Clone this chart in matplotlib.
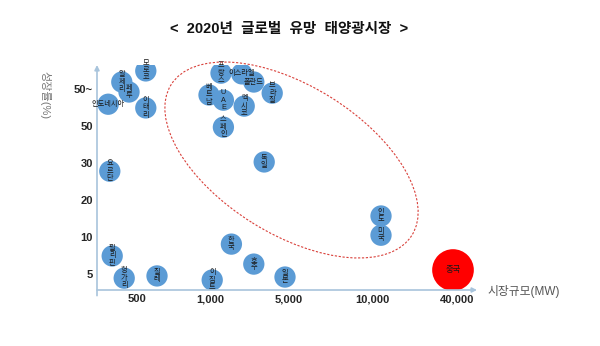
import matplotlib.pyplot as plt
from matplotlib.patches import Ellipse

plt.rcParams['font.family'] = ['Liberation Sans', 'Noto Sans CJK KR', 'DejaVu Sans']

# 축 눈금 (x: 시장규모, y: 성장률) - 눈금 간격이 일정하지 않은 범주형 축
x_tick_pos = [0, 0.91, 1.89, 2.94, 4.0]
x_tick_labels = ['500', '1,000', '5,000', '10,000', '40,000']
y_tick_pos = [0, 1, 2, 3, 4, 5]
y_tick_labels = ['5', '10', '20', '30', '50', '50~']

# 국가별 위치 (축 눈금 단위)
countries = ['알제리', '페루', '모로코', '인도네시아', '이태리', '요르단', '필리핀', '헝가리', '칠레',
             '프랑스', '이스라엘', '폴란드', '브라질', '베트남', 'UAE', '멕시코', '스페인', '독일',
             '한국', '호주', '이집트', '일본', '인도', '미국']
market_pos = [-0.19, -0.10, 0.11, -0.36, 0.11, -0.34, -0.31, -0.16, 0.25,
              1.05, 1.31, 1.46, 1.69, 0.90, 1.08, 1.34, 1.08, 1.59,
              1.18, 1.46, 0.94, 1.85, 3.05, 3.05]
growth_pos = [5.19, 4.92, 5.49, 4.59, 4.49, 2.78, 0.49, -0.11, -0.05,
              5.43, 5.41, 5.19, 4.89, 4.84, 4.70, 4.54, 3.97, 3.03,
              0.81, 0.27, -0.16, -0.08, 1.57, 1.05]
horizontal = {'인도네시아', '이스라엘', '폴란드'}

china_pos = (3.95, 0.11)

fig = plt.figure(figsize=(6, 3.46), dpi=100)
ax = fig.add_axes([97 / 600, 56 / 346, 380 / 600, 225 / 346])
ax.set_xlim(-0.5, 4.25)
ax.set_ylim(-0.43, 5.65)

for name, x, y in zip(countries, market_pos, growth_pos):
    ax.scatter(x, y, s=235, color='#5b9bd5', edgecolors='none', zorder=3)
    if name in horizontal:
        txt = name
    elif name == 'UAE':
        txt = 'U\nA\nE'
    else:
        txt = '\n'.join(name)
    ax.text(x, y, txt, ha='center', va='center', fontsize=5.2, color='#1a1a1a',
            linespacing=1.05, zorder=4)

ax.scatter(*china_pos, s=900, color='#ff0000', edgecolors='none', zorder=3)
ax.text(*china_pos, '중국', ha='center', va='center', fontsize=6, color='#1a1a1a', zorder=4)

# 축 화살표
for sp in ax.spines.values():
    sp.set_visible(False)
axis_color = '#a8c4dc'
ax.annotate('', xy=(1.0, 0), xytext=(0, 0), xycoords='axes fraction',
            arrowprops=dict(arrowstyle='-|>', color=axis_color, lw=1.2,
                            mutation_scale=7, shrinkA=0, shrinkB=0))
ax.annotate('', xy=(0, 1.0), xytext=(0, -0.025), xycoords='axes fraction',
            arrowprops=dict(arrowstyle='-|>', color=axis_color, lw=1.2,
                            mutation_scale=7, shrinkA=0, shrinkB=0))

ax.set_xticks(x_tick_pos, x_tick_labels, fontsize=8, fontweight='bold', color='#262626')
ax.set_yticks(y_tick_pos, y_tick_labels, fontsize=8, fontweight='bold', color='#262626')
ax.tick_params(length=0, pad=3)

# 관심 시장 영역 (점선 타원)
fig.add_artist(Ellipse((2.915, 1.86), 2.84, 1.48, angle=-32, transform=fig.dpi_scale_trans,
                       fill=False, ls=(0, (2, 1.5)), lw=0.8, color='#d9403a'))

fig.text(0.482, 1 - 29 / 346, '<  2020년  글로벌  유망  태양광시장  >', ha='center', va='center',
         fontsize=10.5, fontweight='bold', color='#111111')
fig.text(487 / 600, 1 - 292 / 346, '시장규모(MW)', ha='left', va='center', fontsize=8.5,
         color='#555555')
fig.text(45 / 600, 1 - 95 / 346, '성장률(%)', ha='center', va='center', rotation=270,
         fontsize=8, color='#777777')

fig.savefig('out.png', dpi=100)
